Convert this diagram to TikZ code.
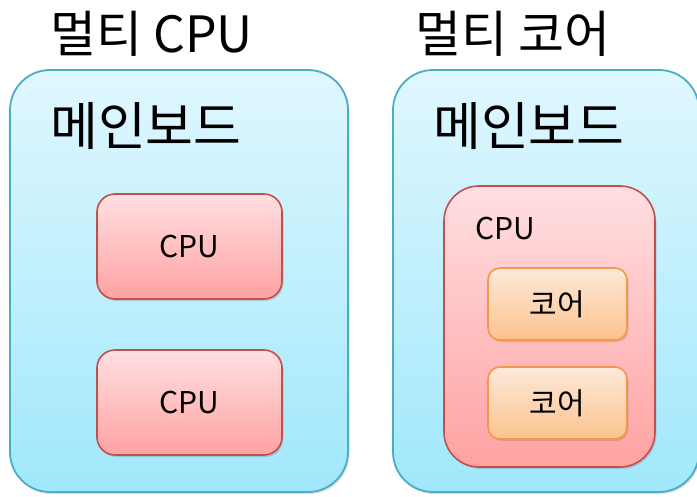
\documentclass[tikz,border=0pt]{standalone}
\usepackage{fontspec}
\setmainfont{Noto Sans CJK KR}
\usetikzlibrary{shadows}
\begin{document}
\begin{tikzpicture}[x=1pt,y=-1pt,
  board/.style={draw=boardline, line width=1.8pt, top color=boardtop, bottom color=boardbot, rounded corners=40pt, inner sep=0pt, drop shadow={opacity=0.25, shadow xshift=1.5pt, shadow yshift=-2pt}},
  cpubox/.style={draw=cpuline, line width=1.6pt, top color=cputop, bottom color=cpubot, inner sep=0pt, drop shadow={opacity=0.3, shadow xshift=1.5pt, shadow yshift=-2pt}},
  corebox/.style={draw=coreline, line width=1.6pt, top color=coretop, bottom color=corebot, rounded corners=12pt, inner sep=0pt, minimum width=139pt, minimum height=72pt, drop shadow={opacity=0.3, shadow xshift=1.5pt, shadow yshift=-2pt}},
  title/.style={anchor=base west, font=\fontsize{50}{50}\selectfont, inner sep=0pt},
  boardtitle/.style={anchor=base west, font=\fontsize{52}{52}\selectfont, inner sep=0pt},
  lbl/.style={font=\fontsize{30}{30}\selectfont, inner sep=0pt}]
\definecolor{boardline}{HTML}{4BACC6}
\definecolor{boardtop}{HTML}{E0F7FE}
\definecolor{boardbot}{HTML}{A0E8FC}
\definecolor{cpuline}{HTML}{C0504D}
\definecolor{cputop}{HTML}{FFDFE1}
\definecolor{cpubot}{HTML}{FFA2A2}
\definecolor{coreline}{HTML}{F79646}
\definecolor{coretop}{HTML}{FDE9DA}
\definecolor{corebot}{HTML}{FBC38E}
\useasboundingbox (0,0) rectangle (697,496);
\clip (0,0) rectangle (697,496);
% titles
\node[title] (t1) at (50,52) {멀티 CPU};
\node[title] (t2) at (415,52) {멀티 코어};
% left
\node[board, minimum width=338pt, minimum height=422pt] (b1) at (179,281) {};
\node[boardtitle] (m1) at (50,145) {메인보드};
\node[cpubox, rounded corners=18pt, minimum width=185pt, minimum height=105pt] (c1) at (189.5,246.5) {};
\node[lbl] at (c1) {CPU};
\node[cpubox, rounded corners=18pt, minimum width=185pt, minimum height=105pt] (c2) at (189.5,402.5) {};
\node[lbl] at (c2) {CPU};
% right
\node[board, minimum width=306pt, minimum height=422pt] (b2) at (546,281) {};
\node[boardtitle] (m2) at (433,145) {메인보드};
\node[cpubox, rounded corners=35pt, minimum width=211pt, minimum height=281pt] (c3) at (549.5,326.5) {};
\node[lbl, anchor=base west] (c3l) at (475,239) {CPU};
\node[corebox] (k1) at (557.5,304) {};
\node[lbl] at (k1) {코어};
\node[corebox] (k2) at (557.5,403) {};
\node[lbl] at (k2) {코어};
\end{tikzpicture}
\end{document}
